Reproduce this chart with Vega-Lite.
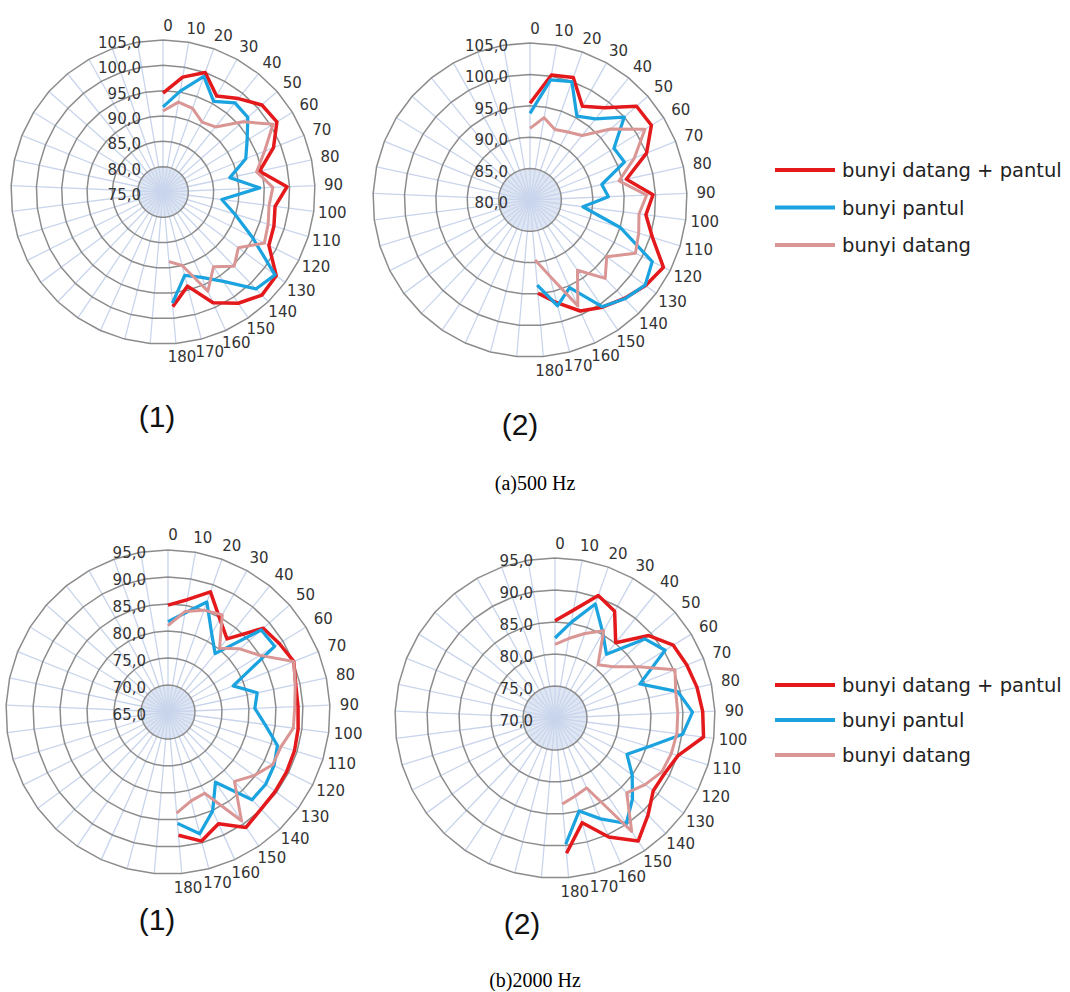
{
"$schema": "https://vega.github.io/schema/vega-lite/v6.json",
"padding": 0,
"background": "white",
"config": {"view": {"stroke": null}, "axis": {"disable": true}},
"datasets": {
"spokes": [{"deg":0},{"deg":10},{"deg":20},{"deg":30},{"deg":40},{"deg":50},{"deg":60},{"deg":70},{"deg":80},{"deg":90},{"deg":100},{"deg":110},{"deg":120},{"deg":130},{"deg":140},{"deg":150},{"deg":160},{"deg":170},{"deg":180},{"deg":190},{"deg":200},{"deg":210},{"deg":220},{"deg":230},{"deg":240},{"deg":250},{"deg":260},{"deg":270},{"deg":280},{"deg":290},{"deg":300},{"deg":310},{"deg":320},{"deg":330},{"deg":340},{"deg":350},{"deg":360}],
"rings": [
{"j":1,"deg":[0,10,20,30,40,50,60,70,80,90,100,110,120,130,140,150,160,170,180,190,200,210,220,230,240,250,260,270,280,290,300,310,320,330,340,350,360,370]},
{"j":2,"deg":[0,10,20,30,40,50,60,70,80,90,100,110,120,130,140,150,160,170,180,190,200,210,220,230,240,250,260,270,280,290,300,310,320,330,340,350,360,370]},
{"j":3,"deg":[0,10,20,30,40,50,60,70,80,90,100,110,120,130,140,150,160,170,180,190,200,210,220,230,240,250,260,270,280,290,300,310,320,330,340,350,360,370]},
{"j":4,"deg":[0,10,20,30,40,50,60,70,80,90,100,110,120,130,140,150,160,170,180,190,200,210,220,230,240,250,260,270,280,290,300,310,320,330,340,350,360,370]},
{"j":5,"deg":[0,10,20,30,40,50,60,70,80,90,100,110,120,130,140,150,160,170,180,190,200,210,220,230,240,250,260,270,280,290,300,310,320,330,340,350,360,370]},
{"j":6,"deg":[0,10,20,30,40,50,60,70,80,90,100,110,120,130,140,150,160,170,180,190,200,210,220,230,240,250,260,270,280,290,300,310,320,330,340,350,360,370]}
],
"meas": [
{"panel":"a1","deg":0,"dp":94.5,"p":91.8,"d":91},
{"panel":"a1","deg":10,"dp":98,"p":95.2,"d":93},
{"panel":"a1","deg":20,"dp":100,"p":99.2,"d":92.5},
{"panel":"a1","deg":30,"dp":96.7,"p":95.5,"d":90.8},
{"panel":"a1","deg":40,"dp":98.7,"p":97.6,"d":91.5},
{"panel":"a1","deg":50,"dp":101,"p":97.3,"d":96},
{"panel":"a1","deg":60,"dp":101.4,"p":94.5,"d":100.5},
{"panel":"a1","deg":70,"dp":98.5,"p":92.6,"d":96.6},
{"panel":"a1","deg":80,"dp":94.5,"p":88.5,"d":93.9},
{"panel":"a1","deg":90,"dp":99.5,"p":94.1,"d":96.7},
{"panel":"a1","deg":100,"dp":97.3,"p":86.7,"d":96.1},
{"panel":"a1","deg":110,"dp":97.9,"p":89.8,"d":96.7},
{"panel":"a1","deg":120,"dp":98.4,"p":94.7,"d":97.4},
{"panel":"a1","deg":130,"dp":102.8,"p":102.5,"d":93.5},
{"panel":"a1","deg":140,"dp":103.2,"p":101.5,"d":95.3},
{"panel":"a1","deg":150,"dp":101.5,"p":96.3,"d":92.8},
{"panel":"a1","deg":160,"dp":99,"p":93.5,"d":96.5},
{"panel":"a1","deg":170,"dp":94.2,"p":92,"d":90},
{"panel":"a1","deg":180,"dp":97.7,"p":97,"d":88.8},
{"panel":"a2","deg":0,"dp":95.4,"p":93.8,"d":91.4},
{"panel":"a2","deg":10,"dp":100.2,"p":99.4,"d":93.3},
{"panel":"a2","deg":20,"dp":100.7,"p":100,"d":91.9},
{"panel":"a2","deg":30,"dp":97.1,"p":95.3,"d":92.4},
{"panel":"a2","deg":40,"dp":98.9,"p":96.6,"d":93.2},
{"panel":"a2","deg":50,"dp":102.6,"p":100,"d":97.1},
{"panel":"a2","deg":60,"dp":102.7,"p":95.7,"d":101.5},
{"panel":"a2","deg":70,"dp":100,"p":96.2,"d":97.9},
{"panel":"a2","deg":80,"dp":95.7,"p":91.7,"d":94.5},
{"panel":"a2","deg":90,"dp":99.6,"p":92.5,"d":98.6},
{"panel":"a2","deg":100,"dp":98.6,"p":88.5,"d":97.5},
{"panel":"a2","deg":110,"dp":100.4,"p":95.1,"d":98.1},
{"panel":"a2","deg":120,"dp":103.8,"p":101.8,"d":98.8},
{"panel":"a2","deg":130,"dp":102.9,"p":102.8,"d":95.2},
{"panel":"a2","deg":140,"dp":101.7,"p":101.8,"d":97.3},
{"panel":"a2","deg":150,"dp":100.6,"p":100.5,"d":93.5},
{"panel":"a2","deg":160,"dp":99.4,"p":95.3,"d":98.5},
{"panel":"a2","deg":170,"dp":96.9,"p":97.4,"d":92.5},
{"panel":"a2","deg":180,"dp":94.9,"p":93.6,"d":89.6},
{"panel":"b1","deg":0,"dp":84.8,"p":81.7,"d":81},
{"panel":"b1","deg":10,"dp":86.1,"p":83.6,"d":83.9},
{"panel":"b1","deg":20,"dp":88.6,"p":86.6,"d":85},
{"panel":"b1","deg":30,"dp":84.7,"p":81.6,"d":85.6},
{"panel":"b1","deg":40,"dp":82.4,"p":78.9,"d":80.2},
{"panel":"b1","deg":50,"dp":88.5,"p":88,"d":82.7},
{"panel":"b1","deg":60,"dp":89.2,"p":88.2,"d":85},
{"panel":"b1","deg":70,"dp":90.1,"p":78,"d":90.1},
{"panel":"b1","deg":80,"dp":89.2,"p":81.9,"d":89.1},
{"panel":"b1","deg":90,"dp":89.1,"p":81.1,"d":88.5},
{"panel":"b1","deg":100,"dp":89.3,"p":83.1,"d":88.4},
{"panel":"b1","deg":110,"dp":89.5,"p":86.2,"d":86.9},
{"panel":"b1","deg":120,"dp":89.6,"p":87,"d":86.7},
{"panel":"b1","deg":130,"dp":89.7,"p":87.5,"d":84.8},
{"panel":"b1","deg":140,"dp":89.9,"p":87.5,"d":82.8},
{"panel":"b1","deg":150,"dp":90.8,"p":80.7,"d":89.3},
{"panel":"b1","deg":160,"dp":87.7,"p":85.1,"d":81.5},
{"panel":"b1","deg":170,"dp":89.7,"p":88.3,"d":82},
{"panel":"b1","deg":180,"dp":87.9,"p":85.7,"d":83.8},
{"panel":"b2","deg":0,"dp":85.2,"p":82.5,"d":81.5},
{"panel":"b2","deg":10,"dp":87.1,"p":85.2,"d":82.6},
{"panel":"b2","deg":20,"dp":90.3,"p":88.9,"d":84},
{"panel":"b2","deg":30,"dp":89.1,"p":85.3,"d":85.6},
{"panel":"b2","deg":40,"dp":85.1,"p":82.8,"d":80.7},
{"panel":"b2","deg":50,"dp":89.5,"p":88.7,"d":82.1},
{"panel":"b2","deg":60,"dp":91.7,"p":90.2,"d":85.3},
{"panel":"b2","deg":70,"dp":92.2,"p":84.3,"d":90.2},
{"panel":"b2","deg":80,"dp":92.7,"p":89.6,"d":89.3},
{"panel":"b2","deg":90,"dp":93.1,"p":91.5,"d":89.2},
{"panel":"b2","deg":100,"dp":93.4,"p":90.1,"d":89.2},
{"panel":"b2","deg":110,"dp":90.1,"p":85.3,"d":89},
{"panel":"b2","deg":120,"dp":89.2,"p":82.6,"d":88.7},
{"panel":"b2","deg":130,"dp":89.1,"p":85,"d":87.5},
{"panel":"b2","deg":140,"dp":91,"p":87.5,"d":86.2},
{"panel":"b2","deg":150,"dp":93.2,"p":89.9,"d":91.4},
{"panel":"b2","deg":160,"dp":90.4,"p":87.3,"d":82},
{"panel":"b2","deg":170,"dp":86.9,"p":85,"d":82.6},
{"panel":"b2","deg":180,"dp":91.2,"p":89.8,"d":83.5}
],
"legendrows": [{"s":"dp","name":"bunyi datang + pantul"},{"s":"p","name":"bunyi pantul"},{"s":"d","name":"bunyi datang"}]
},
"bounds": "flush",
"spacing": 500,
"vconcat": [
{
"bounds": "flush",
"spacing": 0,
"title": {"text": "(a)500 Hz", "orient": "bottom", "anchor": "middle", "font": "Liberation Serif", "fontSize": 20, "fontWeight": "normal", "color": "#000000", "offset": 33},
"hconcat": [
{
"width": 342, "height": 395,
"title": {"text": "(1)", "orient": "bottom", "frame": "group", "offset": 8, "dx": -14, "font": "Liberation Sans", "fontSize": 30, "fontWeight": "normal", "color": "#111111"},
"layer": [
{"data": {"name": "rings"},
 "transform": [{"filter": "datum.j == 1"}, {"flatten": ["deg"]}, {"calculate": "datum.deg*PI/185", "as": "t"}, {"filter": "cos(datum.t) >= 0"}, {"calculate": "sin(datum.t)/6", "as": "gx"}, {"calculate": "cos(datum.t)/6", "as": "gy"}, {"calculate": "-datum.gy", "as": "gy2"}],
 "mark": {"type": "area", "color": "#dfe6f3", "orient": "vertical"},
 "encoding": {"x": {"field": "gx", "type": "quantitative", "scale": {"domain": [-1.0724, 1.1776], "nice": false, "zero": false}}, "y": {"field": "gy", "type": "quantitative", "scale": {"domain": [-1.3355, 1.2632], "nice": false, "zero": false}}, "y2": {"field": "gy2"}}},
{"data": {"name": "spokes"},
 "transform": [{"calculate": "datum.deg*PI/185", "as": "t"}, {"calculate": "sin(datum.t)", "as": "sx"}, {"calculate": "cos(datum.t)", "as": "sy"}],
 "mark": {"type": "rule", "color": "#c9d5ec", "strokeWidth": 1.3},
 "encoding": {"x": {"field": "sx", "type": "quantitative"}, "y": {"field": "sy", "type": "quantitative"}, "x2": {"datum": 0}, "y2": {"datum": 0}}},
{"data": {"name": "rings"},
 "transform": [{"filter": "datum.j <= 6"}, {"flatten": ["deg"]}, {"calculate": "datum.deg*PI/185", "as": "t"}, {"calculate": "datum.j/6*sin(datum.t)", "as": "gx"}, {"calculate": "datum.j/6*cos(datum.t)", "as": "gy"}],
 "mark": {"type": "line", "color": "#8c8c8c", "strokeWidth": 1.5},
 "encoding": {"x": {"field": "gx", "type": "quantitative"}, "y": {"field": "gy", "type": "quantitative"}, "detail": {"field": "j", "type": "nominal"}, "order": {"field": "deg", "type": "quantitative"}}},
{"data": {"values": [{"lvl": 75},{"lvl": 80},{"lvl": 85},{"lvl": 90},{"lvl": 95},{"lvl": 100},{"lvl": 105}]},
 "transform": [{"calculate": "(datum.lvl-75)/30", "as": "r"}, {"calculate": "replace(format(datum.lvl,'.1f'),'.',',')", "as": "lab"}],
 "mark": {"type": "text", "align": "right", "baseline": "middle", "dx": -22, "dy": 3, "font": "DejaVu Sans", "fontSize": 15, "color": "#333333"},
 "encoding": {"x": {"datum": 0, "type": "quantitative"}, "y": {"field": "r", "type": "quantitative"}, "text": {"field": "lab"}}},
{"data": {"name": "spokes"},
 "transform": [{"filter": "datum.deg <= 180"}, {"calculate": "datum.deg*PI/185", "as": "t"}, {"calculate": "1.09*sin(datum.t)", "as": "lx"}, {"calculate": "1.09*cos(datum.t)", "as": "ly"}],
 "mark": {"type": "text", "align": "center", "baseline": "middle", "dx": 5, "font": "DejaVu Sans", "fontSize": 15, "color": "#333333"},
 "encoding": {"x": {"field": "lx", "type": "quantitative"}, "y": {"field": "ly", "type": "quantitative"}, "text": {"field": "deg"}}},
{"data": {"name": "meas"},
 "transform": [{"filter": "datum.panel == 'a1'"}, {"fold": ["dp", "p", "d"], "as": ["s", "v"]}, {"calculate": "(datum.v-75)/30", "as": "r"}, {"calculate": "datum.deg*PI/185", "as": "t"}, {"calculate": "datum.r*sin(datum.t)", "as": "px"}, {"calculate": "datum.r*cos(datum.t)", "as": "py"}],
 "mark": {"type": "line", "strokeJoin": "round"},
 "encoding": {"x": {"field": "px", "type": "quantitative"}, "y": {"field": "py", "type": "quantitative"}, "color": {"field": "s", "type": "nominal", "scale": {"domain": ["dp", "p", "d"], "range": ["#e4191c", "#1ba3e0", "#d99694"]}, "legend": null}, "strokeWidth": {"field": "s", "type": "ordinal", "scale": {"domain": ["dp", "p", "d"], "range": [3.5, 3, 3]}, "legend": null}, "order": {"field": "deg", "type": "quantitative"}}}
]
},
{
"width": 428, "height": 403,
"title": {"text": "(2)", "orient": "bottom", "frame": "group", "offset": 8, "dx": -36, "font": "Liberation Sans", "fontSize": 30, "fontWeight": "normal", "color": "#111111"},
"layer": [
{"data": {"name": "rings"},
 "transform": [{"filter": "datum.j == 1"}, {"flatten": ["deg"]}, {"calculate": "datum.deg*PI/185", "as": "t"}, {"filter": "cos(datum.t) >= 0"}, {"calculate": "sin(datum.t)/5", "as": "gx"}, {"calculate": "cos(datum.t)/5", "as": "gy"}, {"calculate": "-datum.gy", "as": "gy2"}],
 "mark": {"type": "area", "color": "#dfe6f3", "orient": "vertical"},
 "encoding": {"x": {"field": "gx", "type": "quantitative", "scale": {"domain": [-1.1975, 1.5287], "nice": false, "zero": false}}, "y": {"field": "gy", "type": "quantitative", "scale": {"domain": [-1.2930, 1.2739], "nice": false, "zero": false}}, "y2": {"field": "gy2"}}},
{"data": {"name": "spokes"},
 "transform": [{"calculate": "datum.deg*PI/185", "as": "t"}, {"calculate": "sin(datum.t)", "as": "sx"}, {"calculate": "cos(datum.t)", "as": "sy"}],
 "mark": {"type": "rule", "color": "#c9d5ec", "strokeWidth": 1.3},
 "encoding": {"x": {"field": "sx", "type": "quantitative"}, "y": {"field": "sy", "type": "quantitative"}, "x2": {"datum": 0}, "y2": {"datum": 0}}},
{"data": {"name": "rings"},
 "transform": [{"filter": "datum.j <= 5"}, {"flatten": ["deg"]}, {"calculate": "datum.deg*PI/185", "as": "t"}, {"calculate": "datum.j/5*sin(datum.t)", "as": "gx"}, {"calculate": "datum.j/5*cos(datum.t)", "as": "gy"}],
 "mark": {"type": "line", "color": "#8c8c8c", "strokeWidth": 1.5},
 "encoding": {"x": {"field": "gx", "type": "quantitative"}, "y": {"field": "gy", "type": "quantitative"}, "detail": {"field": "j", "type": "nominal"}, "order": {"field": "deg", "type": "quantitative"}}},
{"data": {"values": [{"lvl": 80},{"lvl": 85},{"lvl": 90},{"lvl": 95},{"lvl": 100},{"lvl": 105}]},
 "transform": [{"calculate": "(datum.lvl-80)/25", "as": "r"}, {"calculate": "replace(format(datum.lvl,'.1f'),'.',',')", "as": "lab"}],
 "mark": {"type": "text", "align": "right", "baseline": "middle", "dx": -22, "dy": 3, "font": "DejaVu Sans", "fontSize": 15, "color": "#333333"},
 "encoding": {"x": {"datum": 0, "type": "quantitative"}, "y": {"field": "r", "type": "quantitative"}, "text": {"field": "lab"}}},
{"data": {"name": "spokes"},
 "transform": [{"filter": "datum.deg <= 180"}, {"calculate": "datum.deg*PI/185", "as": "t"}, {"calculate": "1.09*sin(datum.t)", "as": "lx"}, {"calculate": "1.09*cos(datum.t)", "as": "ly"}],
 "mark": {"type": "text", "align": "center", "baseline": "middle", "dx": 5, "font": "DejaVu Sans", "fontSize": 15, "color": "#333333"},
 "encoding": {"x": {"field": "lx", "type": "quantitative"}, "y": {"field": "ly", "type": "quantitative"}, "text": {"field": "deg"}}},
{"data": {"name": "meas"},
 "transform": [{"filter": "datum.panel == 'a2'"}, {"fold": ["dp", "p", "d"], "as": ["s", "v"]}, {"calculate": "(datum.v-80)/25", "as": "r"}, {"calculate": "datum.deg*PI/185", "as": "t"}, {"calculate": "datum.r*sin(datum.t)", "as": "px"}, {"calculate": "datum.r*cos(datum.t)", "as": "py"}],
 "mark": {"type": "line", "strokeJoin": "round"},
 "encoding": {"x": {"field": "px", "type": "quantitative"}, "y": {"field": "py", "type": "quantitative"}, "color": {"field": "s", "type": "nominal", "scale": {"domain": ["dp", "p", "d"], "range": ["#e4191c", "#1ba3e0", "#d99694"]}, "legend": null}, "strokeWidth": {"field": "s", "type": "ordinal", "scale": {"domain": ["dp", "p", "d"], "range": [3.5, 3, 3]}, "legend": null}, "order": {"field": "deg", "type": "quantitative"}}}
]
},
{
"width": 300, "height": 300,
"data": {"name": "legendrows"},
"layer": [
{"mark": {"type": "rule", "strokeWidth": 4},
 "encoding": {"x": {"datum": 5, "type": "quantitative", "scale": {"domain": [0, 300], "nice": false}}, "x2": {"datum": 65}, "y": {"field": "s", "type": "nominal", "sort": ["dp", "p", "d"], "scale": {"type": "point", "range": [170, 245], "padding": 0}}, "color": {"field": "s", "type": "nominal", "scale": {"domain": ["dp", "p", "d"], "range": ["#e4191c", "#1ba3e0", "#d99694"]}, "legend": null}}},
{"mark": {"type": "text", "align": "left", "baseline": "middle", "dy": 1, "font": "DejaVu Sans", "fontSize": 19.5, "color": "#222222"},
 "encoding": {"x": {"datum": 72, "type": "quantitative"}, "y": {"field": "s", "type": "nominal", "sort": ["dp", "p", "d"]}, "text": {"field": "name"}}}
]
}
]
},
{
"bounds": "flush",
"spacing": 0,
"title": {"text": "(b)2000 Hz", "orient": "bottom", "anchor": "middle", "font": "Liberation Serif", "fontSize": 20, "fontWeight": "normal", "color": "#000000", "offset": 31},
"hconcat": [
{
"width": 350, "height": 395,
"title": {"text": "(1)", "orient": "bottom", "frame": "group", "offset": 10, "dx": -18, "font": "Liberation Sans", "fontSize": 30, "fontWeight": "normal", "color": "#111111"},
"layer": [
{"data": {"name": "rings"},
 "transform": [{"filter": "datum.j == 1"}, {"flatten": ["deg"]}, {"calculate": "datum.deg*PI/185", "as": "t"}, {"filter": "cos(datum.t) >= 0"}, {"calculate": "sin(datum.t)/6", "as": "gx"}, {"calculate": "cos(datum.t)/6", "as": "gy"}, {"calculate": "-datum.gy", "as": "gy2"}],
 "mark": {"type": "area", "color": "#dfe6f3", "orient": "vertical"},
 "encoding": {"x": {"field": "gx", "type": "quantitative", "scale": {"domain": [-1.037, 1.1235], "nice": false, "zero": false}}, "y": {"field": "gy", "type": "quantitative", "scale": {"domain": [-1.1296, 1.3086], "nice": false, "zero": false}}, "y2": {"field": "gy2"}}},
{"data": {"name": "spokes"},
 "transform": [{"calculate": "datum.deg*PI/185", "as": "t"}, {"calculate": "sin(datum.t)", "as": "sx"}, {"calculate": "cos(datum.t)", "as": "sy"}],
 "mark": {"type": "rule", "color": "#c9d5ec", "strokeWidth": 1.3},
 "encoding": {"x": {"field": "sx", "type": "quantitative"}, "y": {"field": "sy", "type": "quantitative"}, "x2": {"datum": 0}, "y2": {"datum": 0}}},
{"data": {"name": "rings"},
 "transform": [{"filter": "datum.j <= 6"}, {"flatten": ["deg"]}, {"calculate": "datum.deg*PI/185", "as": "t"}, {"calculate": "datum.j/6*sin(datum.t)", "as": "gx"}, {"calculate": "datum.j/6*cos(datum.t)", "as": "gy"}],
 "mark": {"type": "line", "color": "#8c8c8c", "strokeWidth": 1.5},
 "encoding": {"x": {"field": "gx", "type": "quantitative"}, "y": {"field": "gy", "type": "quantitative"}, "detail": {"field": "j", "type": "nominal"}, "order": {"field": "deg", "type": "quantitative"}}},
{"data": {"values": [{"lvl": 65},{"lvl": 70},{"lvl": 75},{"lvl": 80},{"lvl": 85},{"lvl": 90},{"lvl": 95}]},
 "transform": [{"calculate": "(datum.lvl-65)/30", "as": "r"}, {"calculate": "replace(format(datum.lvl,'.1f'),'.',',')", "as": "lab"}],
 "mark": {"type": "text", "align": "right", "baseline": "middle", "dx": -22, "dy": 3, "font": "DejaVu Sans", "fontSize": 15, "color": "#333333"},
 "encoding": {"x": {"datum": 0, "type": "quantitative"}, "y": {"field": "r", "type": "quantitative"}, "text": {"field": "lab"}}},
{"data": {"name": "spokes"},
 "transform": [{"filter": "datum.deg <= 180"}, {"calculate": "datum.deg*PI/185", "as": "t"}, {"calculate": "1.09*sin(datum.t)", "as": "lx"}, {"calculate": "1.09*cos(datum.t)", "as": "ly"}],
 "mark": {"type": "text", "align": "center", "baseline": "middle", "dx": 5, "font": "DejaVu Sans", "fontSize": 15, "color": "#333333"},
 "encoding": {"x": {"field": "lx", "type": "quantitative"}, "y": {"field": "ly", "type": "quantitative"}, "text": {"field": "deg"}}},
{"data": {"name": "meas"},
 "transform": [{"filter": "datum.panel == 'b1'"}, {"fold": ["dp", "p", "d"], "as": ["s", "v"]}, {"calculate": "(datum.v-65)/30", "as": "r"}, {"calculate": "datum.deg*PI/185", "as": "t"}, {"calculate": "datum.r*sin(datum.t)", "as": "px"}, {"calculate": "datum.r*cos(datum.t)", "as": "py"}],
 "mark": {"type": "line", "strokeJoin": "round"},
 "encoding": {"x": {"field": "px", "type": "quantitative"}, "y": {"field": "py", "type": "quantitative"}, "color": {"field": "s", "type": "nominal", "scale": {"domain": ["dp", "p", "d"], "range": ["#e4191c", "#1ba3e0", "#d99694"]}, "legend": null}, "strokeWidth": {"field": "s", "type": "ordinal", "scale": {"domain": ["dp", "p", "d"], "range": [3.5, 3, 3]}, "legend": null}, "order": {"field": "deg", "type": "quantitative"}}}
]
},
{
"width": 420, "height": 395,
"title": {"text": "(2)", "orient": "bottom", "frame": "group", "offset": 10, "dx": -38, "font": "Liberation Sans", "fontSize": 30, "fontWeight": "normal", "color": "#111111"},
"layer": [
{"data": {"name": "rings"},
 "transform": [{"filter": "datum.j == 1"}, {"flatten": ["deg"]}, {"calculate": "datum.deg*PI/185", "as": "t"}, {"filter": "cos(datum.t) >= 0"}, {"calculate": "sin(datum.t)/5", "as": "gx"}, {"calculate": "cos(datum.t)/5", "as": "gy"}, {"calculate": "-datum.gy", "as": "gy2"}],
 "mark": {"type": "area", "color": "#dfe6f3", "orient": "vertical"},
 "encoding": {"x": {"field": "gx", "type": "quantitative", "scale": {"domain": [-1.28125, 1.34375], "nice": false, "zero": false}}, "y": {"field": "gy", "type": "quantitative", "scale": {"domain": [-1.10625, 1.3625], "nice": false, "zero": false}}, "y2": {"field": "gy2"}}},
{"data": {"name": "spokes"},
 "transform": [{"calculate": "datum.deg*PI/185", "as": "t"}, {"calculate": "sin(datum.t)", "as": "sx"}, {"calculate": "cos(datum.t)", "as": "sy"}],
 "mark": {"type": "rule", "color": "#c9d5ec", "strokeWidth": 1.3},
 "encoding": {"x": {"field": "sx", "type": "quantitative"}, "y": {"field": "sy", "type": "quantitative"}, "x2": {"datum": 0}, "y2": {"datum": 0}}},
{"data": {"name": "rings"},
 "transform": [{"filter": "datum.j <= 5"}, {"flatten": ["deg"]}, {"calculate": "datum.deg*PI/185", "as": "t"}, {"calculate": "datum.j/5*sin(datum.t)", "as": "gx"}, {"calculate": "datum.j/5*cos(datum.t)", "as": "gy"}],
 "mark": {"type": "line", "color": "#8c8c8c", "strokeWidth": 1.5},
 "encoding": {"x": {"field": "gx", "type": "quantitative"}, "y": {"field": "gy", "type": "quantitative"}, "detail": {"field": "j", "type": "nominal"}, "order": {"field": "deg", "type": "quantitative"}}},
{"data": {"values": [{"lvl": 70},{"lvl": 75},{"lvl": 80},{"lvl": 85},{"lvl": 90},{"lvl": 95}]},
 "transform": [{"calculate": "(datum.lvl-70)/25", "as": "r"}, {"calculate": "replace(format(datum.lvl,'.1f'),'.',',')", "as": "lab"}],
 "mark": {"type": "text", "align": "right", "baseline": "middle", "dx": -22, "dy": 3, "font": "DejaVu Sans", "fontSize": 15, "color": "#333333"},
 "encoding": {"x": {"datum": 0, "type": "quantitative"}, "y": {"field": "r", "type": "quantitative"}, "text": {"field": "lab"}}},
{"data": {"name": "spokes"},
 "transform": [{"filter": "datum.deg <= 180"}, {"calculate": "datum.deg*PI/185", "as": "t"}, {"calculate": "1.09*sin(datum.t)", "as": "lx"}, {"calculate": "1.09*cos(datum.t)", "as": "ly"}],
 "mark": {"type": "text", "align": "center", "baseline": "middle", "dx": 5, "font": "DejaVu Sans", "fontSize": 15, "color": "#333333"},
 "encoding": {"x": {"field": "lx", "type": "quantitative"}, "y": {"field": "ly", "type": "quantitative"}, "text": {"field": "deg"}}},
{"data": {"name": "meas"},
 "transform": [{"filter": "datum.panel == 'b2'"}, {"fold": ["dp", "p", "d"], "as": ["s", "v"]}, {"calculate": "(datum.v-70)/25", "as": "r"}, {"calculate": "datum.deg*PI/185", "as": "t"}, {"calculate": "datum.r*sin(datum.t)", "as": "px"}, {"calculate": "datum.r*cos(datum.t)", "as": "py"}],
 "mark": {"type": "line", "strokeJoin": "round"},
 "encoding": {"x": {"field": "px", "type": "quantitative"}, "y": {"field": "py", "type": "quantitative"}, "color": {"field": "s", "type": "nominal", "scale": {"domain": ["dp", "p", "d"], "range": ["#e4191c", "#1ba3e0", "#d99694"]}, "legend": null}, "strokeWidth": {"field": "s", "type": "ordinal", "scale": {"domain": ["dp", "p", "d"], "range": [3.5, 3, 3]}, "legend": null}, "order": {"field": "deg", "type": "quantitative"}}}
]
},
{
"width": 300, "height": 300,
"data": {"name": "legendrows"},
"layer": [
{"mark": {"type": "rule", "strokeWidth": 4},
 "encoding": {"x": {"datum": 5, "type": "quantitative", "scale": {"domain": [0, 300], "nice": false}}, "x2": {"datum": 65}, "y": {"field": "s", "type": "nominal", "sort": ["dp", "p", "d"], "scale": {"type": "point", "range": [185, 255], "padding": 0}}, "color": {"field": "s", "type": "nominal", "scale": {"domain": ["dp", "p", "d"], "range": ["#e4191c", "#1ba3e0", "#d99694"]}, "legend": null}}},
{"mark": {"type": "text", "align": "left", "baseline": "middle", "dy": 1, "font": "DejaVu Sans", "fontSize": 19.5, "color": "#222222"},
 "encoding": {"x": {"datum": 72, "type": "quantitative"}, "y": {"field": "s", "type": "nominal", "sort": ["dp", "p", "d"]}, "text": {"field": "name"}}}
]
}
]
}
]
}
